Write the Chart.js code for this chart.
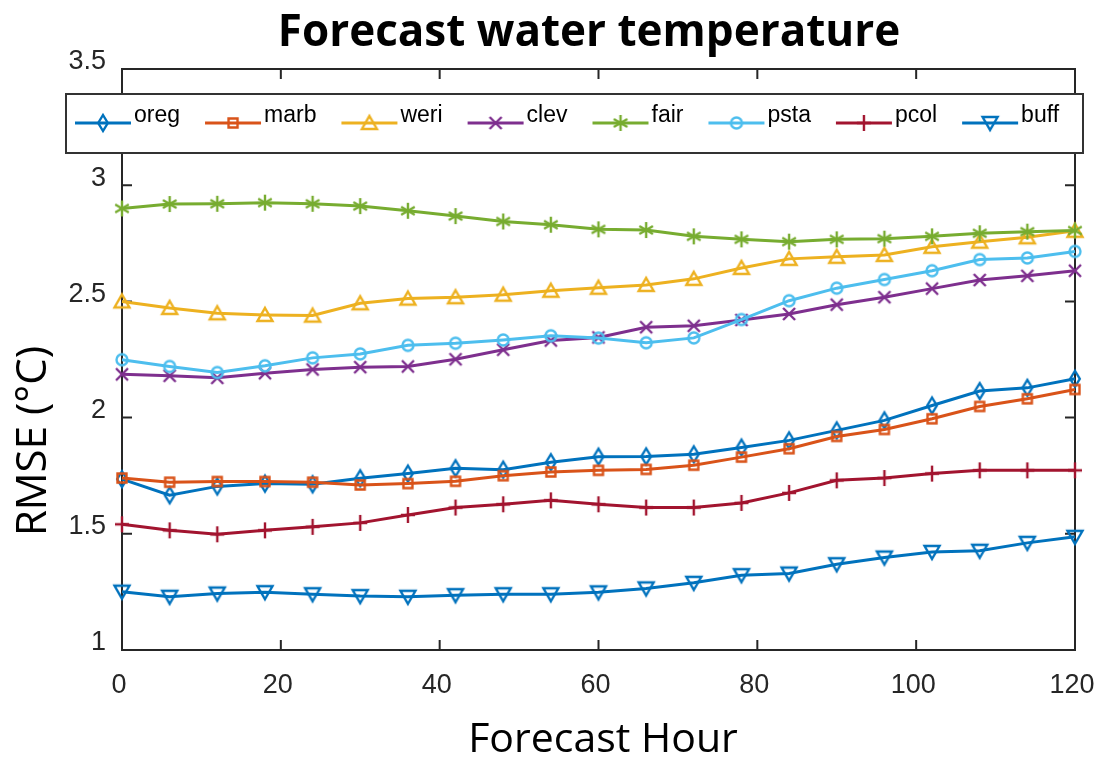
<!DOCTYPE html>
<html>
<head>
<meta charset="utf-8">
<script src="https://cdn.jsdelivr.net/npm/chart.js@4.4.1/dist/chart.umd.min.js"></script>
<style>
  html, body { margin: 0; padding: 0; background: #fff; }
</style>
</head>
<body>
<canvas id="chart" width="1094" height="761"></canvas>
<script>
const hours = [0, 6, 12, 18, 24, 30, 36, 42, 48, 54, 60, 66, 72, 78, 84, 90, 96, 102, 108, 114, 120];
const xTicks = [0, 20, 40, 60, 80, 100, 120];
const yTicks = [1, 1.5, 2, 2.5, 3, 3.5];

const oreg = [1.735, 1.666, 1.704, 1.716, 1.713, 1.739, 1.759, 1.782, 1.776, 1.808, 1.832, 1.833, 1.842, 1.871, 1.902, 1.945, 1.988, 2.052, 2.114, 2.128, 2.167];
const marb = [1.740, 1.722, 1.725, 1.725, 1.722, 1.710, 1.716, 1.726, 1.750, 1.766, 1.773, 1.777, 1.795, 1.830, 1.866, 1.919, 1.949, 1.995, 2.048, 2.081, 2.121];
const weri = [2.500, 2.472, 2.449, 2.442, 2.439, 2.492, 2.512, 2.518, 2.529, 2.546, 2.559, 2.571, 2.597, 2.644, 2.683, 2.692, 2.700, 2.735, 2.757, 2.776, 2.804];
const clev = [2.186, 2.180, 2.171, 2.191, 2.207, 2.217, 2.220, 2.251, 2.292, 2.332, 2.345, 2.389, 2.395, 2.420, 2.446, 2.486, 2.518, 2.555, 2.592, 2.610, 2.632];
const fair = [2.900, 2.919, 2.920, 2.925, 2.920, 2.910, 2.890, 2.867, 2.844, 2.830, 2.810, 2.807, 2.780, 2.767, 2.757, 2.767, 2.770, 2.780, 2.793, 2.800, 2.805];
const psta = [2.249, 2.220, 2.194, 2.223, 2.257, 2.274, 2.311, 2.320, 2.334, 2.352, 2.342, 2.322, 2.343, 2.422, 2.503, 2.557, 2.594, 2.632, 2.680, 2.687, 2.715];
const pcol = [1.541, 1.515, 1.498, 1.515, 1.530, 1.547, 1.581, 1.613, 1.627, 1.644, 1.627, 1.613, 1.613, 1.633, 1.676, 1.730, 1.740, 1.759, 1.773, 1.773, 1.773];
const buff = [1.251, 1.229, 1.243, 1.249, 1.240, 1.232, 1.229, 1.236, 1.240, 1.240, 1.248, 1.265, 1.289, 1.322, 1.329, 1.369, 1.398, 1.422, 1.427, 1.461, 1.487];

const names = ["oreg", "marb", "weri", "clev", "fair", "psta", "pcol", "buff"];
const values = [oreg, marb, weri, clev, fair, psta, pcol, buff];
const colors = ["#0072BD", "#D95319", "#EDB120", "#7E2F8E", "#77AC30", "#4DBEEE", "#A2142F", "#0072BD"];
const shapes = ["diamond", "square", "triangle", "x", "star", "circle", "plus", "down"];

const tickFont = '"Liberation Sans", Arial, sans-serif';
const titleFont = '"Open Sans", sans-serif';
const axisGray = "#262626";

// MATLAB-like hollow markers drawn on small canvases
function makeMarker(shape, color) {
  const c = document.createElement("canvas");
  c.width = 22;
  c.height = 22;
  const g = c.getContext("2d");
  g.strokeStyle = color;
  g.lineWidth = 2.4;
  g.translate(11, 11);
  g.beginPath();
  if (shape === "diamond") {
    g.moveTo(0, -8); g.lineTo(4.8, 0); g.lineTo(0, 8); g.lineTo(-4.8, 0); g.closePath();
  } else if (shape === "square") {
    g.rect(-4.5, -4.5, 9, 9);
  } else if (shape === "triangle") {
    g.moveTo(0, -7); g.lineTo(7.5, 6); g.lineTo(-7.5, 6); g.closePath();
  } else if (shape === "down") {
    g.moveTo(0, 7); g.lineTo(7.5, -6); g.lineTo(-7.5, -6); g.closePath();
  } else if (shape === "x") {
    g.moveTo(-6, -6); g.lineTo(6, 6); g.moveTo(6, -6); g.lineTo(-6, 6);
  } else if (shape === "plus") {
    g.moveTo(0, -8); g.lineTo(0, 8); g.moveTo(-7, 0); g.lineTo(7, 0);
  } else if (shape === "star") {
    g.moveTo(0, -8); g.lineTo(0, 8);
    g.moveTo(-6.8, -4); g.lineTo(6.8, 4);
    g.moveTo(6.8, -4); g.lineTo(-6.8, 4);
  } else {
    g.arc(0, 0, 5.5, 0, Math.PI * 2);
  }
  g.stroke();
  return c;
}

const markers = shapes.map((s, i) => makeMarker(s, colors[i]));

const datasets = names.map((name, i) => ({
  label: name,
  data: hours.map((h, j) => ({ x: h, y: values[i][j] })),
  borderColor: colors[i],
  borderWidth: 3,
  pointStyle: markers[i],
  pointRadius: 8,
  pointHoverRadius: 8,
  tension: 0,
  clip: false,
  order: names.length - i
}));

// Box with inward ticks, drawn under the lines
const framePlugin = {
  id: "frame",
  beforeDatasetsDraw(chart) {
    const { ctx, chartArea: a, scales } = chart;
    ctx.save();
    ctx.strokeStyle = axisGray;
    ctx.lineWidth = 2;
    ctx.strokeRect(a.left, a.top, a.right - a.left, a.bottom - a.top);
    ctx.beginPath();
    xTicks.forEach(v => {
      const px = scales.x.getPixelForValue(v);
      ctx.moveTo(px, a.bottom); ctx.lineTo(px, a.bottom - 10);
      ctx.moveTo(px, a.top); ctx.lineTo(px, a.top + 10);
    });
    yTicks.forEach(v => {
      const py = scales.y.getPixelForValue(v);
      ctx.moveTo(a.left, py); ctx.lineTo(a.left + 10, py);
      ctx.moveTo(a.right, py); ctx.lineTo(a.right - 10, py);
    });
    ctx.stroke();
    ctx.restore();
  }
};

// Title and axis labels
const titlesPlugin = {
  id: "titles",
  afterDraw(chart) {
    const ctx = chart.ctx;
    ctx.save();
    ctx.fillStyle = "#000";
    ctx.textAlign = "center";
    ctx.textBaseline = "alphabetic";
    ctx.font = "bold 44px " + titleFont;
    ctx.fillText("Forecast water temperature", 589, 46);
    ctx.font = "41px " + titleFont;
    ctx.fillText("Forecast Hour", 603, 752);
    ctx.translate(46, 441);
    ctx.rotate(-Math.PI / 2);
    ctx.font = "42px " + titleFont;
    ctx.fillText("RMSE (°C)", 0, 0);
    ctx.restore();
  }
};

// Legend box in one row across the top
const legendPlugin = {
  id: "matlabLegend",
  afterDatasetsDraw(chart) {
    const ctx = chart.ctx;
    ctx.save();
    ctx.fillStyle = "#fff";
    ctx.fillRect(66, 94, 1017, 59);
    ctx.strokeStyle = "#333";
    ctx.lineWidth = 2;
    ctx.strokeRect(66, 94, 1017, 59);
    ctx.font = "23px " + tickFont;
    ctx.textBaseline = "alphabetic";
    let x = 75;
    chart.data.datasets.forEach((ds, i) => {
      ctx.strokeStyle = ds.borderColor;
      ctx.lineWidth = 3;
      ctx.beginPath();
      ctx.moveTo(x, 123);
      ctx.lineTo(x + 56, 123);
      ctx.stroke();
      ctx.drawImage(markers[i], x + 28 - 11, 123 - 11);
      ctx.fillStyle = "#000";
      ctx.fillText(ds.label, x + 59, 122);
      x += 59 + ctx.measureText(ds.label).width + 25;
    });
    ctx.restore();
  }
};

new Chart(document.getElementById("chart"), {
  type: "line",
  data: { datasets },
  plugins: [framePlugin, legendPlugin, titlesPlugin],
  options: {
    responsive: false,
    devicePixelRatio: 1,
    animation: false,
    layout: { padding: { top: 69, right: 19 } },
    plugins: {
      legend: { display: false },
      tooltip: { enabled: false },
      title: { display: false }
    },
    scales: {
      x: {
        type: "linear",
        min: 0,
        max: 120,
        afterBuildTicks: s => { s.ticks = xTicks.map(v => ({ value: v })); },
        afterFit: s => { s.height = 111; s.paddingLeft = 0; s.paddingRight = 0; },
        grid: { display: false, drawTicks: false },
        border: { display: false },
        ticks: {
          color: axisGray, padding: 19, labelOffset: -3, maxRotation: 0,
          font: { family: tickFont, size: 27 },
          callback: v => String(v)
        }
      },
      y: {
        min: 1,
        max: 3.5,
        afterBuildTicks: s => { s.ticks = yTicks.map(v => ({ value: v })); },
        afterFit: s => { s.width = 122; },
        grid: { display: false, drawTicks: false },
        border: { display: false },
        ticks: {
          color: axisGray, padding: 16, labelOffset: -7,
          font: { family: tickFont, size: 27 },
          callback: v => String(v)
        }
      }
    }
  }
});
</script>
</body>
</html>
